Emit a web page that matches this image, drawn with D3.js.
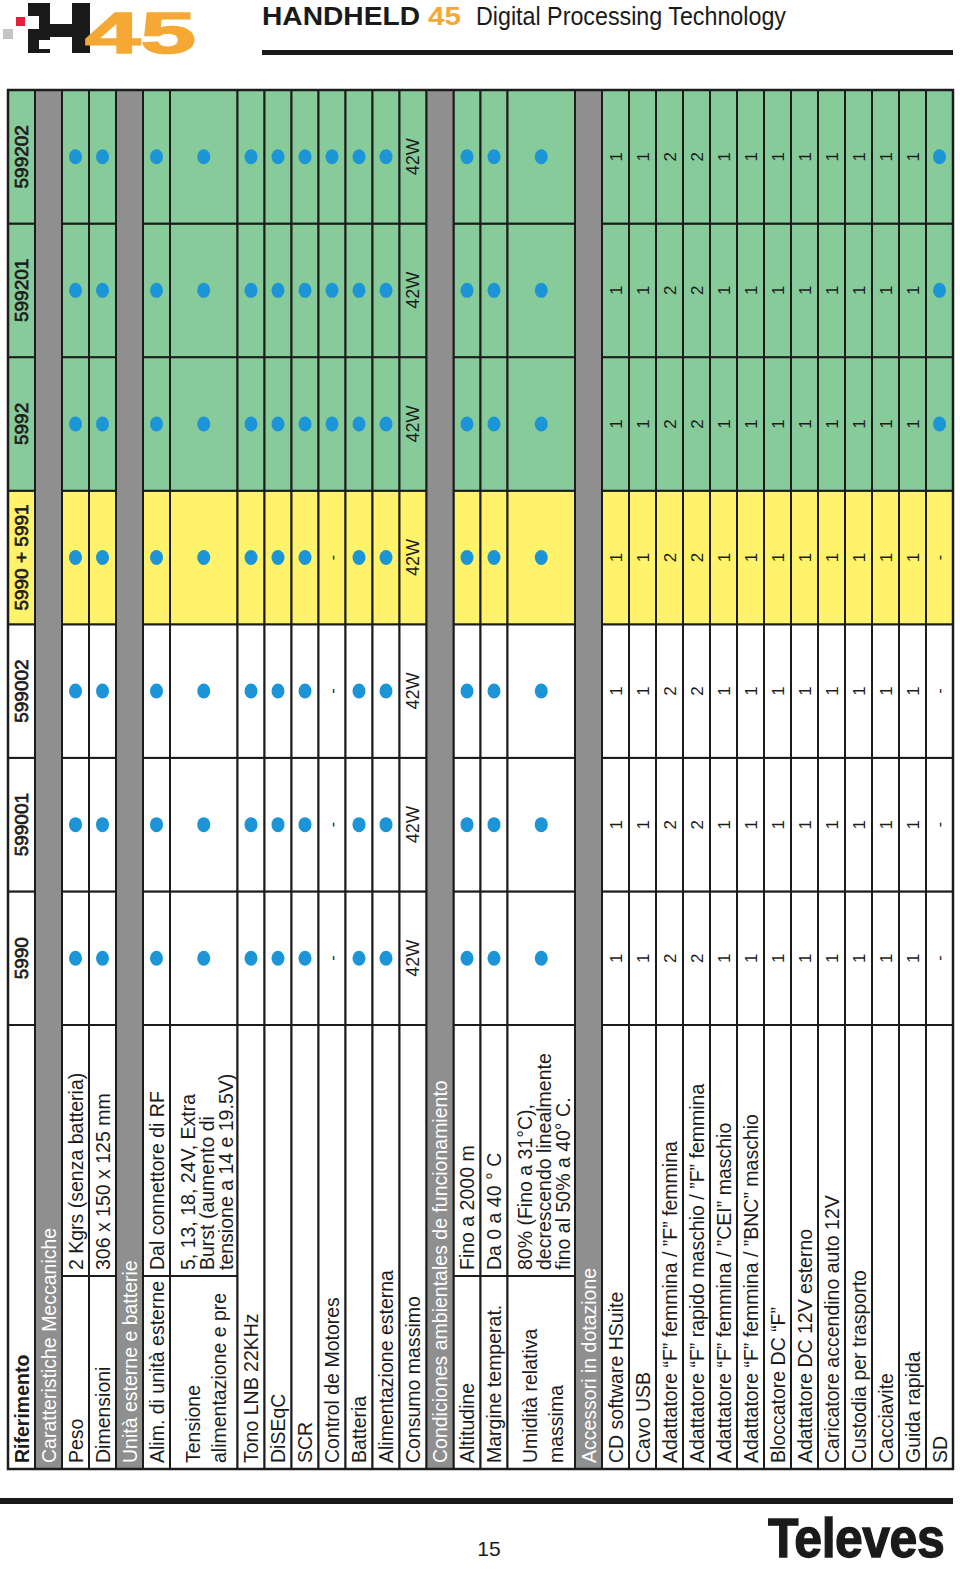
<!DOCTYPE html>
<html><head><meta charset="utf-8">
<script src="https://cdn.jsdelivr.net/npm/d3@7"></script>
<style>html,body{margin:0;padding:0;background:#fff;}svg{display:block;}</style>
</head><body>
<script>
// ---------- DATA ----------
const models = ["5990","599001","599002","5990 + 5991","5992","599201","599202"];
const modelFills = ["white","white","white","yellow","green","green","green"];

const rowLabels = [
  ["Riferimento"], ["Caratteristiche Meccaniche"], ["Peso"], ["Dimensioni"],
  ["Unità esterne e batterie"], ["Alim. di unità esterne"], ["Tensione","alimentazione e pre"],
  ["Tono LNB 22KHz"], ["DiSEqC"], ["SCR"], ["Control de Motores"], ["Batteria"],
  ["Alimentazione esterna"], ["Consumo massimo"], ["Condiciones ambientales de funcionamiento"],
  ["Altitudine"], ["Margine temperat."], ["Umidità relativa","massima"], ["Accessori in dotazione"],
  ["CD software HSuite"], ["Cavo USB"], ["Adattatore “F” femmina / ”F” femmina"],
  ["Adattatore “F” rapido maschio / ”F” femmina"], ["Adattatore “F” femmina / ”CEI” maschio"],
  ["Adattatore “F” femmina / ”BNC” maschio"], ["Bloccatore DC “F”"], ["Adattatore DC 12V esterno"],
  ["Caricatore accendino auto 12V"], ["Custodia per trasporto"], ["Cacciavite"], ["Guida rapida"], ["SD"]
];
const rowKinds = ["head","sec","row","row","sec","row","row","row","row","row","row","row","row","row","sec",
  "row","row","row","sec","row","row","row","row","row","row","row","row","row","row","row","row","row"];
const rowSpans = [1,1,1,1,1,1,2.5,1,1,1,1,1,1,1,1,1,1,2.5,1,1,1,1,1,1,1,1,1,1,1,1,1,1];
const rowSubs = [null,null,["2 Kgrs (senza batteria)"],["306 x 150 x 125 mm"],null,["Dal connettore di RF"],
  ["5, 13, 18, 24V, Extra","Burst (aumento di","tensione a 14 e 19.5V)"],null,null,null,null,null,null,null,null,
  ["Fino a 2000 m"],["Da 0 a 40 ° C"],["80% (Fino a 31°C),","decrescendo linealmente","fino al 50% a 40° C."],
  null,null,null,null,null,null,null,null,null,null,null,null,null,null];

// values for the 27 data rows, per model ("●" = dot)
const v5990     = ["●","●","●","●","●","●","●","-","●","●","42W","●","●","●","1","1","2","2","1","1","1","1","1","1","1","1","-"];
const v599001   = ["●","●","●","●","●","●","●","-","●","●","42W","●","●","●","1","1","2","2","1","1","1","1","1","1","1","1","-"];
const v599002   = ["●","●","●","●","●","●","●","-","●","●","42W","●","●","●","1","1","2","2","1","1","1","1","1","1","1","1","-"];
const v5990_5991= ["●","●","●","●","●","●","●","-","●","●","42W","●","●","●","1","1","2","2","1","1","1","1","1","1","1","1","-"];
const v5992     = ["●","●","●","●","●","●","●","●","●","●","42W","●","●","●","1","1","2","2","1","1","1","1","1","1","1","1","●"];
const v599201   = ["●","●","●","●","●","●","●","●","●","●","42W","●","●","●","1","1","2","2","1","1","1","1","1","1","1","1","●"];
const v599202   = ["●","●","●","●","●","●","●","●","●","●","42W","●","●","●","1","1","2","2","1","1","1","1","1","1","1","1","●"];
const modelValues = [v5990, v599001, v599002, v5990_5991, v5992, v599201, v599202];

// ---------- STYLE ----------
const COL = {white:"#ffffff", yellow:"#fff36b", green:"#87cb9a", gray:"#8f8f8f", dot:"#1b95d7", line:"#1c1c1c", text:"#1c1c1c", orange:"#f5a833"};
const FONT = "'Liberation Sans', Arial, Helvetica, sans-serif";

const svg = d3.select("body").append("svg").attr("width",960).attr("height",1570);

// scales
const totalUnits = d3.sum(rowSpans);
const starts = [0, ...d3.cumsum(rowSpans)];
const x = d3.scaleLinear().domain([0,totalUnits]).range([8,953]);
const y = d3.scaleBand().domain(models).range([1025,90]);
const LBL0 = 1025, LBL1 = 1469, SUBDIV = 1276, TOP = 90;

const dataIdx = rowKinds.map((k,i)=>k==="row"?i:-1).filter(i=>i>=0);

const gCells = svg.append("g");
const gSec = svg.append("g");
const gText = svg.append("g").attr("font-family",FONT).attr("fill",COL.text);

function vtext(g, cx, cy, str, opts={}) {
  const t = g.append("text")
    .attr("transform",`translate(${cx},${cy}) rotate(-90)`)
    .attr("text-anchor", opts.anchor || "middle")
    .attr("dy","0.36em")
    .attr("font-size", opts.size || 19.5)
    .attr("font-weight", opts.weight || "normal")
    .attr("fill", opts.fill || COL.text)
    .text(str);
  if (opts.stroke) t.attr("stroke", opts.fill || COL.text).attr("stroke-width", opts.stroke);
  return t;
}
function vlines(g, cx, cy, lines, spacing, opts) {
  const n = lines.length;
  lines.forEach((s,i)=> vtext(g, cx + (i-(n-1)/2)*spacing, cy, s, opts));
}

rowLabels.forEach((lab,i)=>{
  const x0 = x(starts[i]), x1 = x(starts[i+1]), cx = (x0+x1)/2, w = x1-x0;
  const kind = rowKinds[i];
  if (kind === "sec") {
    gSec.append("rect").attr("x",x0).attr("y",TOP).attr("width",w).attr("height",LBL1-TOP)
      .attr("fill",COL.gray).attr("stroke",COL.line).attr("stroke-width",2);
    vtext(gText, cx, 1463, lab[0], {anchor:"start", fill:"#ffffff"});
    return;
  }
  // model cells
  models.forEach((m,j)=>{
    gCells.append("rect").attr("x",x0).attr("y",y(m)).attr("width",w).attr("height",y.bandwidth())
      .attr("fill",COL[modelFills[j]]).attr("stroke",COL.line).attr("stroke-width",2);
    const cy = y(m) + y.bandwidth()/2;
    if (kind === "head") {
      vtext(gText, cx, cy, m, {size:19, stroke:0.7});
    } else {
      const v = modelValues[j][dataIdx.indexOf(i)];
      if (v === "●") {
        gText.append("ellipse").attr("cx",cx).attr("cy",cy).attr("rx",6.5).attr("ry",7.5).attr("fill",COL.dot);
      } else if (v === "-") {
        vtext(gText, cx, cy, "-", {size:16});
      } else if (v === "42W") {
        vtext(gText, cx, cy, v, {size:18});
      } else {
        vtext(gText, cx, cy, v, {size:17});
      }
    }
  });
  // label cells
  const sub = rowSubs[i];
  if (sub) {
    gCells.append("rect").attr("x",x0).attr("y",SUBDIV).attr("width",w).attr("height",LBL1-SUBDIV)
      .attr("fill","#fff").attr("stroke",COL.line).attr("stroke-width",2);
    gCells.append("rect").attr("x",x0).attr("y",LBL0).attr("width",w).attr("height",SUBDIV-LBL0)
      .attr("fill","#fff").attr("stroke",COL.line).attr("stroke-width",2);
    vlines(gText, cx + (lab.length>1?2:0), 1463, lab, lab.length>1?26:0, {anchor:"start"});
    vlines(gText, cx + (sub.length>1?3:0), 1270, sub, 19, {anchor:"start"});
  } else {
    gCells.append("rect").attr("x",x0).attr("y",LBL0).attr("width",w).attr("height",LBL1-LBL0)
      .attr("fill","#fff").attr("stroke",COL.line).attr("stroke-width",2);
    vtext(gText, cx, 1463, lab[0], {anchor:"start", weight: kind==="head"?"bold":"normal"});
  }
});

// outer border
svg.append("rect").attr("x",x(0)).attr("y",TOP).attr("width",x(totalUnits)-x(0)).attr("height",LBL1-TOP)
  .attr("fill","none").attr("stroke",COL.line).attr("stroke-width",2.5);

// ---------- HEADER ----------
const hdr = svg.append("g");
hdr.append("rect").attr("x",3).attr("y",29).attr("width",10).attr("height",10).attr("fill","#c4c4c4");
hdr.append("rect").attr("x",16).attr("y",17).attr("width",9).attr("height",9).attr("fill","#e2203c");
const hBlocks = [[28,3,22,13],[39,16,11,13],[28,29,22,24],[50,24,24,13],[72,3,18,50]];
hBlocks.forEach(b=>hdr.append("rect").attr("x",b[0]).attr("y",b[1]).attr("width",b[2]).attr("height",b[3]).attr("fill","#1a1a1a"));
hdr.append("rect").attr("x",39).attr("y",40).attr("width",11).attr("height",9).attr("fill","#fff");
hdr.append("text").attr("transform","translate(85,53) scale(1.75,1)").attr("font-family",FONT).attr("font-weight","bold")
  .attr("font-size",57).attr("fill",COL.orange).attr("stroke",COL.orange).attr("stroke-width",1.5)
  .text("45");

hdr.append("text").attr("x",262).attr("y",25).attr("font-family",FONT).attr("font-weight","bold")
  .attr("font-size",25).attr("fill","#1a1a1a").attr("textLength",158).attr("lengthAdjust","spacingAndGlyphs").text("HANDHELD");
hdr.append("text").attr("x",428).attr("y",25).attr("font-family",FONT).attr("font-weight","bold")
  .attr("font-size",25).attr("fill",COL.orange).attr("textLength",33).attr("lengthAdjust","spacingAndGlyphs").text("45");
hdr.append("text").attr("x",476).attr("y",25).attr("font-family",FONT)
  .attr("font-size",25).attr("fill","#1a1a1a").attr("textLength",310).attr("lengthAdjust","spacingAndGlyphs").text("Digital Processing Technology");
hdr.append("rect").attr("x",262).attr("y",50).attr("width",691).attr("height",5).attr("fill","#1a1a1a");

// ---------- FOOTER ----------
svg.append("rect").attr("x",0).attr("y",1498).attr("width",953).attr("height",6).attr("fill","#1a1a1a");
svg.append("text").attr("x",489).attr("y",1556).attr("text-anchor","middle").attr("font-family",FONT)
  .attr("font-size",21).attr("fill","#1a1a1a").text("15");
svg.append("text").attr("transform","translate(768,1557) scale(1,1.1)").attr("font-family",FONT).attr("font-weight","bold")
  .attr("font-size",50).attr("letter-spacing",-0.5).attr("fill","#1a1a1a").attr("stroke","#1a1a1a").attr("stroke-width",1.2).text("Televes");
</script>
</body></html>
